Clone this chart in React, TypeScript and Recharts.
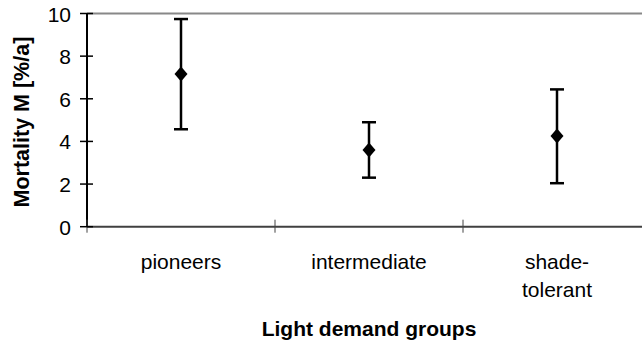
import React from 'react';
import {
    ScatterChart,
    Scatter,
    XAxis,
    YAxis,
    ErrorBar,
    ReferenceLine
} from 'recharts';

const categories = ['pioneers', 'intermediate', 'shade-\ntolerant'];
const meanMortality = [7.16, 3.6, 4.25];
const lowerBound = [4.57, 2.3, 2.04];
const upperBound = [9.74, 4.9, 6.44];
const yTicks = [0, 2, 4, 6, 8, 10];

const FONT = '"Liberation Sans", Arial, sans-serif';
const Y_TICK_MARGIN = 16;

const data = categories.map((name, i) => ({
    name,
    x: i + 0.5,
    y: meanMortality[i],
    err: [meanMortality[i] - lowerBound[i], upperBound[i] - meanMortality[i]]
}));

// integer positions get a boundary tick, half positions get the category label
const xTicks = [0, 0.5, 1, 1.5, 2, 2.5, 3];

const XTick = ({ x, y, payload }: any) => {
    const v = payload.value;
    if (Number.isInteger(v)) {
        return <line x1={x} x2={x} y1={y - 7} y2={y + 6} stroke="#444" strokeWidth={1} />;
    }
    const label = categories[Math.floor(v)] || '';
    const lines = label.split('\n');
    return (
        <text x={x} y={y + 42.5} textAnchor="middle" fontFamily={FONT} fontSize={21} fill="#000">
            {lines.map((l, i) => (
                <tspan key={i} x={x} dy={i === 0 ? 0 : 28}>{l}</tspan>
            ))}
        </text>
    );
};

const YTick = ({ x, y, payload }: any) => {
    const axisX = x + Y_TICK_MARGIN;
    return (
        <g>
            <line x1={axisX - 7} x2={axisX + 6} y1={y} y2={y} stroke="#000" strokeWidth={1.5} />
            <text x={x} y={y + 8} textAnchor="end" fontFamily={FONT} fontSize={21} fill="#000">
                {payload.value}
            </text>
        </g>
    );
};

const Diamond = ({ cx, cy }: any) => (
    <polygon
        points={`${cx},${cy - 7.5} ${cx + 6.5},${cy} ${cx},${cy + 7.5} ${cx - 6.5},${cy}`}
        fill="#000"
    />
);

const XLabel = ({ viewBox }: any) => (
    <text
        x={viewBox.x + viewBox.width / 2}
        y={viewBox.y + 109}
        textAnchor="middle"
        fontFamily={FONT}
        fontSize={21}
        fontWeight="bold"
        fill="#000"
    >
        Light demand groups
    </text>
);

const YLabel = ({ viewBox }: any) => {
    const cx = viewBox.x - 5;
    const cy = viewBox.y + viewBox.height / 2 + 2;
    return (
        <text
            x={cx}
            y={cy}
            transform={`rotate(-90, ${cx}, ${cy})`}
            textAnchor="middle"
            dominantBaseline="central"
            fontFamily={FONT}
            fontSize={21.5}
            fontWeight="bold"
            fill="#000"
        >
            Mortality M [%/a]
        </text>
    );
};

export default function App() {
    return (
        <div style={{ position: 'absolute', left: 0, top: 0, width: 642, height: 347, overflow: 'hidden', background: '#fff' }}>
            <ScatterChart width={660} height={347} margin={{ top: 13.5, right: 9, bottom: 80.3, left: 27 }}>
                <XAxis
                    type="number"
                    dataKey="x"
                    domain={[0, 3]}
                    ticks={xTicks}
                    interval={0}
                    allowDecimals
                    height={40}
                    tickSize={0}
                    tickMargin={0}
                    tickLine={false}
                    tick={<XTick />}
                    axisLine={{ stroke: '#404040', strokeWidth: 2 }}
                    label={<XLabel />}
                />
                <YAxis
                    type="number"
                    dataKey="y"
                    domain={[0, 10]}
                    ticks={yTicks}
                    interval={0}
                    width={60}
                    tickSize={0}
                    tickMargin={Y_TICK_MARGIN}
                    tickLine={false}
                    tick={<YTick />}
                    axisLine={{ stroke: '#000', strokeWidth: 2 }}
                    label={<YLabel />}
                />
                <ReferenceLine y={10} stroke="#888" strokeWidth={2} />
                <Scatter data={data} shape={<Diamond />} isAnimationActive={false}>
                    <ErrorBar dataKey="err" direction="y" width={7} strokeWidth={2.5} stroke="#000" isAnimationActive={false} />
                </Scatter>
            </ScatterChart>
        </div>
    );
}
